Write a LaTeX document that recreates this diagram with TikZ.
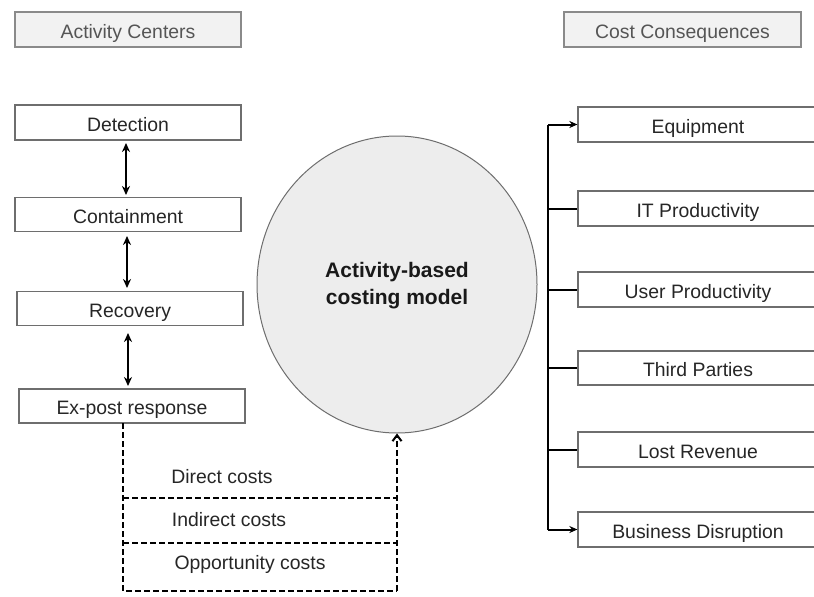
\documentclass[tikz,border=0pt]{standalone}
\usepackage{fontspec}
\setmainfont{Liberation Sans}
\usetikzlibrary{arrows.meta,shapes.geometric}
\definecolor{boxline}{HTML}{6E6E6E}
\definecolor{hdrfill}{HTML}{F2F2F2}
\definecolor{hdrline}{HTML}{8A8A8A}
\definecolor{txt}{HTML}{262626}
\definecolor{hdrtxt}{HTML}{555555}
\definecolor{circfill}{HTML}{EDEDED}
\tikzset{
  every node/.style={font=\fontsize{19.4}{23}\selectfont, text=txt},
  cbox/.style={draw=boxline, line width=1.3pt, fill=white, inner sep=0pt,
     minimum height=35pt, text height=17pt, text depth=0pt},
  hbox/.style={cbox, draw=hdrline, fill=hdrfill, text=hdrtxt},
  tiparrow/.style={line width=2pt, -{Stealth[length=8pt,width=7pt]}},
  dbl/.style={line width=2pt, {Stealth[length=9pt,width=8pt]}-{Stealth[length=9pt,width=8pt]}},
  branch/.style={line width=2pt},
  dline/.style={line width=2pt, dash pattern=on 6pt off 3pt},
  lbl/.style={anchor=base, inner sep=0pt},
}
\begin{document}
\begin{tikzpicture}[x=1pt,y=-1pt]
\useasboundingbox (0,0) rectangle (814,597);
\clip (0,0) rectangle (814,597);
\fill[white] (0,0) rectangle (814,597);

% headers
\node[hbox, minimum width=226pt] (hdrL) at (128,29.5) {Activity Centers};
\node[hbox, minimum width=237pt] (hdrR) at (682.5,29.5) {Cost Consequences};

% activity centers
\node[cbox, minimum width=226pt] (det) at (128,122.5) {Detection};
\node[cbox, minimum width=226pt, minimum height=34pt] (con) at (128,214.5) {Containment};
\node[cbox, minimum width=226pt, minimum height=34pt] (rec) at (130,308.5) {Recovery};
\node[cbox, minimum width=226pt, minimum height=34pt] (ex) at (132,406) {Ex-post response};

\draw[dbl] (126,143) -- (126,195);
\draw[dbl] (127,236) -- (127,288);
\draw[dbl] (128,333) -- (128,386);

% central model
\node[draw=boxline, line width=1pt, fill=circfill, ellipse, minimum width=280pt, minimum height=297pt, inner sep=0pt] (abc) at (397,284.5) {};
\node[align=center, font=\fontsize{21}{27}\selectfont\bfseries, text=black!90] (abct) at (397,286) {Activity-based\\costing model};

% cost consequences
\node[cbox, minimum width=240pt] (eq) at (698,124.5) {Equipment};
\node[cbox, minimum width=240pt] (itp) at (698,208.5) {IT Productivity};
\node[cbox, minimum width=240pt] (up) at (698,289.5) {User Productivity};
\node[cbox, minimum width=240pt, minimum height=34pt] (tp) at (698,368) {Third Parties};
\node[cbox, minimum width=240pt] (lr) at (698,449.5) {Lost Revenue};
\node[cbox, minimum width=240pt] (bd) at (698,529.5) {Business Disruption};

\coordinate (trTop) at (548,124.5);
\coordinate (trBot) at (548,529.5);
\draw[branch] (trBot) -- (trTop);
\draw[tiparrow] (trTop) -- (eq.west);
\draw[tiparrow] (trBot) -- (bd.west);
\draw[branch] (548,208.5) -- (itp.west);
\draw[branch] (548,289.5) -- (up.west);
\draw[branch] (548,368) -- (tp.west);
\draw[branch] (548,449.5) -- (lr.west);

% dashed cost flows
\coordinate (dTop) at (123,423);
\coordinate (d1L) at (123,498);
\coordinate (d2L) at (123,543);
\coordinate (d3L) at (123,591);
\coordinate (d1R) at (397,498);
\coordinate (d2R) at (397,543);
\coordinate (d3R) at (397,591);
\draw[dline] (dTop) -- (d3L) -- (d3R);
\draw[dline] (d1L) -- (d1R);
\draw[dline] (d2L) -- (d2R);
\draw[dline, -{Straight Barb[length=6pt,width=9pt]}] (d3R) -- (abc.south);

\node[lbl] (dc) at (222,483) {Direct costs};
\node[lbl] (ic) at (229,526) {Indirect costs};
\node[lbl] (oc) at (250,569) {Opportunity costs};
\end{tikzpicture}
\end{document}
